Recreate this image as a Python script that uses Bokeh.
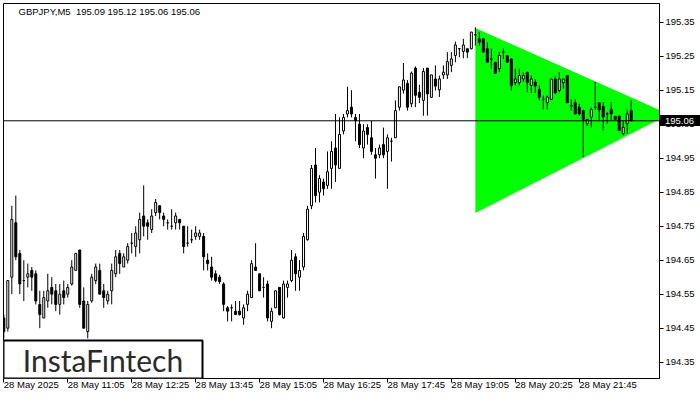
from bokeh.plotting import figure
from bokeh.models import Range1d, FixedTicker, Span, Label, BoxAnnotation, PrintfTickFormatter, ColumnDataSource, Div
from bokeh.embed import file_html
from bokeh.resources import INLINE

# ---------------- data ----------------
symbol = "GBPJPY,M5"
last_ohlc = [195.09, 195.12, 195.06, 195.06]
current_price = 195.06

opens = [194.48, 194.45, 194.60, 194.76, 194.67, 194.59, 194.60, 194.62, 194.61, 194.52,
         194.48, 194.53, 194.57, 194.56, 194.52, 194.56, 194.55, 194.58, 194.62, 194.68,
         194.53, 194.44, 194.53, 194.59, 194.62, 194.56, 194.53, 194.56, 194.61, 194.67,
         194.63, 194.65, 194.70, 194.69, 194.71, 194.78, 194.76, 194.74, 194.79, 194.81,
         194.78, 194.76, 194.75, 194.76, 194.77, 194.75, 194.70, 194.71, 194.72, 194.72,
         194.72, 194.65, 194.63, 194.61, 194.60, 194.58, 194.51, 194.51, 194.50, 194.50,
         194.48, 194.52, 194.54, 194.63, 194.61, 194.57, 194.58, 194.47, 194.51, 194.57,
         194.48, 194.57, 194.59, 194.66, 194.60, 194.63, 194.71, 194.81, 194.93, 194.85,
         194.88, 194.87, 194.92, 194.98, 194.92, 195.03, 195.08, 195.10, 195.07, 195.05,
         194.98, 195.04, 195.01, 194.96, 194.96, 194.99, 194.97, 195.00, 195.01, 195.10,
         195.15, 195.17, 195.11, 195.215, 195.144, 195.12, 195.215, 195.129, 195.183, 195.151,
         195.195, 195.195, 195.223, 195.252, 195.272, 195.264, 195.272, 195.272, 195.313, 195.301,
         195.301, 195.272, 195.242, 195.232, 195.213, 195.262, 195.252, 195.242, 195.172, 195.172,
         195.183, 195.203, 195.164, 195.174, 195.152, 195.123, 195.113, 195.123, 195.183, 195.149,
         195.172, 195.193, 195.103, 195.113, 195.10, 195.09, 195.051, 195.071, 195.10, 195.113,
         195.102, 195.08, 195.093, 195.073, 195.074, 195.022, 195.051, 195.09]
highs = [194.49, 194.59, 194.81, 194.84, 194.68, 194.65, 194.64, 194.63, 194.62, 194.56,
         194.56, 194.61, 194.60, 194.58, 194.58, 194.59, 194.58, 194.65, 194.67, 194.68,
         194.57, 194.53, 194.61, 194.64, 194.64, 194.58, 194.56, 194.64, 194.68, 194.68,
         194.67, 194.70, 194.73, 194.75, 194.79, 194.87, 194.77, 194.80, 194.83, 194.81,
         194.79, 194.77, 194.80, 194.79, 194.77, 194.75, 194.75, 194.74, 194.75, 194.74,
         194.73, 194.67, 194.66, 194.62, 194.607, 194.585, 194.515, 194.52, 194.53, 194.53,
         194.52, 194.56, 194.65, 194.70, 194.61, 194.60, 194.59, 194.51, 194.56, 194.57,
         194.59, 194.59, 194.68, 194.67, 194.65, 194.73, 194.81, 194.93, 194.98, 194.90,
         194.89, 194.97, 195.00, 195.08, 195.07, 195.08, 195.16, 195.15, 195.08, 195.08,
         195.05, 195.05, 195.06, 194.98, 194.99, 195.04, 195.02, 195.01, 195.12, 195.16,
         195.23, 195.18, 195.205, 195.22, 195.166, 195.215, 195.215, 195.195, 195.223, 195.193,
         195.223, 195.262, 195.262, 195.293, 195.274, 195.301, 195.272, 195.321, 195.335, 195.321,
         195.301, 195.291, 195.272, 195.232, 195.262, 195.272, 195.252, 195.242, 195.213, 195.213,
         195.203, 195.203, 195.193, 195.183, 195.164, 195.134, 195.134, 195.183, 195.193, 195.203,
         195.183, 195.195, 195.123, 195.123, 195.11, 195.093, 195.066, 195.10, 195.174, 195.113,
         195.115, 195.085, 195.115, 195.074, 195.074, 195.061, 195.093, 195.12]
lows = [194.42, 194.44, 194.55, 194.65, 194.55, 194.53, 194.57, 194.56, 194.52, 194.45,
        194.48, 194.51, 194.52, 194.50, 194.49, 194.52, 194.54, 194.575, 194.62, 194.51,
        194.45, 194.42, 194.525, 194.58, 194.55, 194.51, 194.52, 194.52, 194.60, 194.61,
        194.63, 194.64, 194.67, 194.66, 194.67, 194.72, 194.71, 194.73, 194.78, 194.77,
        194.75, 194.74, 194.74, 194.74, 194.74, 194.67, 194.69, 194.70, 194.71, 194.71,
        194.62, 194.62, 194.59, 194.585, 194.58, 194.50, 194.47, 194.47, 194.49, 194.487,
        194.46, 194.50, 194.54, 194.62, 194.56, 194.54, 194.47, 194.45, 194.51, 194.487,
        194.478, 194.54, 194.585, 194.56, 194.56, 194.62, 194.708, 194.80, 194.82, 194.82,
        194.84, 194.86, 194.86, 194.88, 194.92, 195.02, 195.07, 195.07, 195.00, 194.98,
        194.95, 194.99, 194.96, 194.89, 194.95, 194.95, 194.86, 194.94, 195.01, 195.09,
        195.14, 195.09, 195.10, 195.10, 195.112, 195.075, 195.075, 195.129, 195.149, 195.13,
        195.183, 195.183, 195.203, 195.232, 195.247, 195.244, 195.244, 195.27, 195.281, 195.281,
        195.262, 195.232, 195.213, 195.20, 195.203, 195.242, 195.232, 195.149, 195.164, 195.164,
        195.174, 195.144, 195.142, 195.142, 195.120, 195.093, 195.093, 195.123, 195.139, 195.144,
        195.155, 195.113, 195.09, 195.08, 195.075, 194.953, 195.045, 195.041, 195.093, 195.061,
        195.031, 195.051, 195.061, 195.062, 195.03, 195.017, 195.022, 195.06]
closes = [194.44, 194.59, 194.77, 194.66, 194.58, 194.59, 194.61, 194.60, 194.53, 194.49,
          194.54, 194.56, 194.55, 194.52, 194.55, 194.54, 194.57, 194.63, 194.67, 194.52,
          194.45, 194.52, 194.60, 194.63, 194.55, 194.54, 194.55, 194.62, 194.66, 194.64,
          194.66, 194.69, 194.70, 194.73, 194.77, 194.75, 194.75, 194.78, 194.82, 194.79,
          194.77, 194.76, 194.75, 194.78, 194.76, 194.69, 194.70, 194.71, 194.73, 194.73,
          194.66, 194.64, 194.60, 194.59, 194.587, 194.52, 194.50, 194.51, 194.49, 194.49,
          194.51, 194.55, 194.64, 194.62, 194.56, 194.57, 194.48, 194.50, 194.56, 194.49,
          194.58, 194.58, 194.65, 194.61, 194.62, 194.72, 194.80, 194.92, 194.84, 194.89,
          194.86, 194.91, 194.97, 194.93, 195.02, 195.07, 195.09, 195.08, 195.06, 194.99,
          195.03, 195.02, 194.97, 194.95, 194.98, 194.96, 195.01, 195.00, 195.09, 195.16,
          195.18, 195.10, 195.20, 195.135, 195.129, 195.205, 195.139, 195.195, 195.162, 195.183,
          195.203, 195.234, 195.242, 195.283, 195.272, 195.283, 195.262, 195.321, 195.313, 195.291,
          195.262, 195.232, 195.242, 195.20, 195.252, 195.262, 195.232, 195.164, 195.183, 195.193,
          195.193, 195.172, 195.183, 195.162, 195.129, 195.123, 195.130, 195.183, 195.142, 195.183,
          195.183, 195.113, 195.105, 195.08, 195.08, 195.064, 195.064, 195.093, 195.10, 195.092,
          195.071, 195.08, 195.08, 195.064, 195.031, 195.041, 195.08, 195.06]

time_tick_bars = [0, 16, 32, 48, 64, 80, 96, 112, 128, 144]
time_tick_labels = ["28 May 2025", "28 May 11:05", "28 May 12:25", "28 May 13:45",
                    "28 May 15:05", "28 May 16:25", "28 May 17:45", "28 May 19:05",
                    "28 May 20:25", "28 May 21:45"]
price_ticks = [194.35, 194.45, 194.55, 194.65, 194.75, 194.85, 194.95,
               195.05, 195.15, 195.25, 195.35]

# symmetrical triangle pattern (bar index, price)
tri_bars = [118, 118, 166.5]
tri_prices = [195.333, 194.789, 195.079]

# ---------------- layout ----------------
PAGE_LEFT, PAGE_TOP = 2, 2
FW, FH = 656, 375
BL, BT = 1, 1
X0, X1 = -0.08, 164.08
Y0, Y1 = 194.302, 195.405
FONT = "Liberation Sans"
TAG_W, TAG_H = 40, 11

def px_to_x(px):
    return X0 + px / FW * (X1 - X0)

def px_to_y(py):
    return Y1 - py / FH * (Y1 - Y0)

p = figure(frame_width=FW, frame_height=FH,
           x_range=Range1d(X0, X1), y_range=Range1d(Y0, Y1),
           y_axis_location="right", output_backend="svg", toolbar_location=None,
           min_border_left=BL, min_border_top=BT, min_border_right=41, min_border_bottom=22,
           background_fill_color="white", border_fill_color="white",
           styles={"position": "absolute", "left": f"{PAGE_LEFT}px", "top": f"{PAGE_TOP}px"})
p.grid.visible = False
p.outline_line_color = "black"
p.outline_line_width = 1

# axes
p.yaxis.ticker = FixedTicker(ticks=price_ticks)
p.yaxis.formatter = PrintfTickFormatter(format="%.2f")
p.xaxis.ticker = FixedTicker(ticks=time_tick_bars)
p.xaxis.major_label_overrides = {b: l for b, l in zip(time_tick_bars, time_tick_labels)}
p.xaxis.major_label_orientation = -0.0001   # labels start at their tick
for ax in (p.xaxis, p.yaxis):
    ax.axis_line_color = "black"
    ax.major_tick_line_color = "black"
    ax.major_tick_out = 4
    ax.major_tick_in = 0
    ax.minor_tick_line_color = None
    ax.major_label_text_font = FONT
    ax.major_label_text_font_size = "9.5px"
    ax.major_label_text_color = "black"
    ax.major_label_standoff = 2

# triangle
p.patch(tri_bars, tri_prices, fill_color="#00FF00", line_color=None)

# candles
idx = list(range(len(opens)))
src = ColumnDataSource(dict(
    x=idx, o=opens, h=highs, l=lows, c=closes,
    top=[max(a, b) for a, b in zip(opens, closes)],
    bot=[min(a, b) for a, b in zip(opens, closes)],
    fill=["white" if c >= o else "black" for o, c in zip(opens, closes)],
))
p.segment(x0="x", y0="l", x1="x", y1="h", source=src, line_color="black", line_width=1)
p.vbar(x="x", width=0.5, top="top", bottom="bot", source=src,
       fill_color="fill", line_color="black", line_width=1)

# current price line
p.add_layout(Span(location=current_price, dimension="width", line_color="black", line_width=1))

# header text
title = f"{symbol}\u00a0 " + " ".join(f"{v:.2f}" for v in last_ohlc)
p.add_layout(Label(x=px_to_x(15), y=px_to_y(8), text=title, text_font=FONT,
                   text_font_size="9.5px", text_color="#000000", text_baseline="middle"))

# logo box
p.add_layout(BoxAnnotation(left=X0, right=px_to_x(199), bottom=Y0, top=px_to_y(337),
                           fill_color="white", fill_alpha=1.0,
                           line_color="black", line_width=2, line_alpha=1.0))
p.add_layout(Label(x=px_to_x(99.5), y=px_to_y(356), text="InstaF\u0131ntech",
                   text_font="Lato", text_font_size="30px", text_color="#2a2a2a",
                   text_align="center", text_baseline="middle"))

# price tag on the price axis (a floating element over the axis area)
tag_center = BT + (Y1 - current_price) / (Y1 - Y0) * FH
tag = Div(text=f"{current_price:.2f}",
          styles={"position": "absolute", "left": f"{BL + FW + 1}px",
                  "top": f"{round(tag_center - TAG_H / 2)}px",
                  "width": f"{TAG_W}px", "height": f"{TAG_H}px", "margin": "0px",
                  "padding": "0px 0px 0px 5px", "box-sizing": "border-box",
                  "background-color": "black", "color": "white",
                  "font-family": FONT, "font-size": "9.5px", "line-height": f"{TAG_H}px",
                  "overflow": "hidden", "z-index": "10"})
p.elements = [tag]

open("out.html", "w").write(file_html(p, INLINE))
